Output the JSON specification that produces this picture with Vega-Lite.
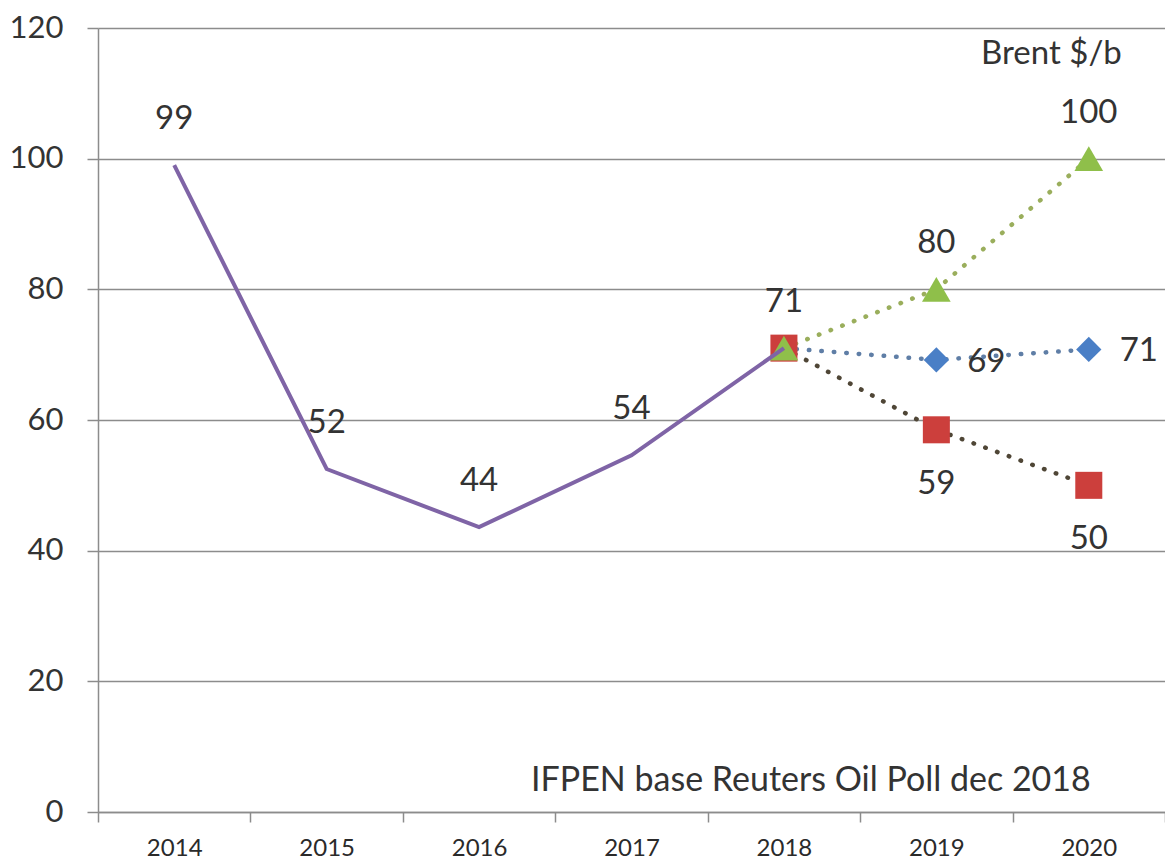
{
  "$schema": "https://vega.github.io/schema/vega-lite/v6.json",
  "width": 1067,
  "height": 784,
  "autosize": {"type": "none"},
  "padding": {"left": 98, "top": 28, "right": 0, "bottom": 53},
  "background": "white",
  "config": {
    "view": {"stroke": null},
    "font": "Lato",
    "text": {"font": "Lato", "color": "#333333"}
  },
  "data": {
    "values": [
      {"year": "2014", "value": 99, "series": "hist", "label": "99"},
      {"year": "2015", "value": 52.5, "series": "hist", "label": "52"},
      {"year": "2016", "value": 43.6, "series": "hist", "label": "44"},
      {"year": "2017", "value": 54.6, "series": "hist", "label": "54"},
      {"year": "2018", "value": 71, "series": "hist", "label": "71"},
      {"year": "2018", "value": 71, "series": "mid", "label": ""},
      {"year": "2019", "value": 69.2, "series": "mid", "label": "69"},
      {"year": "2020", "value": 70.8, "series": "mid", "label": "71"},
      {"year": "2018", "value": 71, "series": "low", "label": ""},
      {"year": "2019", "value": 58.5, "series": "low", "label": "59"},
      {"year": "2020", "value": 50, "series": "low", "label": "50"},
      {"year": "2018", "value": 71, "series": "high", "label": ""},
      {"year": "2019", "value": 80, "series": "high", "label": "80"},
      {"year": "2020", "value": 100, "series": "high", "label": "100"},
      {"year": "2020", "value": 116, "series": "unit", "label": "Brent $/b"},
      {"year": "2020", "value": 4.7, "series": "source", "label": "IFPEN base Reuters Oil Poll dec 2018"}
    ]
  },
  "encoding": {
    "x": {
      "field": "year",
      "type": "ordinal",
      "bandPosition": 0.5,
      "scale": {"type": "band", "paddingInner": 0, "paddingOuter": 0},
      "axis": {
        "title": null,
        "labelAngle": 0,
        "labelFontSize": 24,
        "labelColor": "#2a2a2a",
        "labelPadding": 14,
        "domainColor": "#8c8c8c",
        "domainWidth": 1.5,
        "tickBand": "extent",
        "tickSize": 10,
        "tickColor": "#8c8c8c",
        "tickWidth": 1.5,
        "grid": false
      }
    },
    "y": {
      "field": "value",
      "type": "quantitative",
      "scale": {"domain": [0, 120], "nice": false, "zero": true},
      "axis": {
        "title": null,
        "values": [0, 20, 40, 60, 80, 100, 120],
        "labelFontSize": 31,
        "labelColor": "#333333",
        "labelPadding": 24,
        "domainColor": "#8c8c8c",
        "domainWidth": 1.5,
        "tickSize": 11,
        "tickColor": "#8c8c8c",
        "tickWidth": 1.5,
        "grid": true,
        "gridColor": "#8c8c8c",
        "gridWidth": 1.5
      }
    }
  },
  "layer": [
    {
      "transform": [{"filter": "datum.series === 'mid' || datum.series === 'low' || datum.series === 'high'"}],
      "mark": {"type": "line", "strokeDash": [0.5, 12], "strokeCap": "round", "strokeWidth": 4.5},
      "encoding": {
        "stroke": {
          "field": "series",
          "type": "nominal",
          "scale": {"domain": ["mid", "low", "high"], "range": ["#5f7ea6", "#4f4636", "#9aae5c"]},
          "legend": null
        },
        "detail": {"field": "series"}
      }
    },
    {
      "transform": [{"filter": "datum.series === 'mid' || datum.series === 'low' || datum.series === 'high'"}],
      "mark": {"type": "point", "filled": true, "opacity": 1, "strokeWidth": 0},
      "encoding": {
        "fill": {
          "field": "series",
          "type": "nominal",
          "scale": {"domain": ["mid", "low", "high"], "range": ["#4a7fc6", "#cc3f3c", "#8fbf4a"]},
          "legend": null
        },
        "shape": {
          "field": "series",
          "type": "nominal",
          "scale": {"domain": ["mid", "low", "high"], "range": ["diamond", "square", "triangle-up"]},
          "legend": null
        },
        "size": {
          "field": "series",
          "type": "nominal",
          "scale": {"domain": ["mid", "low", "high"], "range": [640, 820, 760]},
          "legend": null
        }
      }
    },
    {
      "transform": [{"filter": "datum.series === 'hist'"}],
      "mark": {"type": "line", "color": "#7f64a6", "strokeWidth": 4, "strokeJoin": "miter"},
      "encoding": {}
    },
    {
      "transform": [{"filter": "datum.series === 'hist' || (datum.series === 'high' && datum.year !== '2018')"}],
      "mark": {"type": "text", "dy": -46, "fontSize": 33, "align": "center", "baseline": "middle"},
      "encoding": {"text": {"field": "label"}}
    },
    {
      "transform": [{"filter": "datum.series === 'mid' && datum.year !== '2018'"}],
      "mark": {"type": "text", "dx": 50, "dy": 2, "fontSize": 33, "align": "center", "baseline": "middle"},
      "encoding": {"text": {"field": "label"}}
    },
    {
      "transform": [{"filter": "datum.series === 'low' && datum.year !== '2018'"}],
      "mark": {"type": "text", "dy": 54, "fontSize": 33, "align": "center", "baseline": "middle"},
      "encoding": {"text": {"field": "label"}}
    },
    {
      "transform": [{"filter": "datum.series === 'unit'"}],
      "mark": {"type": "text", "align": "right", "baseline": "middle", "fontSize": 33, "dx": 33},
      "encoding": {"text": {"field": "label"}}
    },
    {
      "transform": [{"filter": "datum.series === 'source'"}],
      "mark": {"type": "text", "align": "right", "baseline": "middle", "fontSize": 34, "dx": 2},
      "encoding": {"text": {"field": "label"}}
    }
  ]
}
